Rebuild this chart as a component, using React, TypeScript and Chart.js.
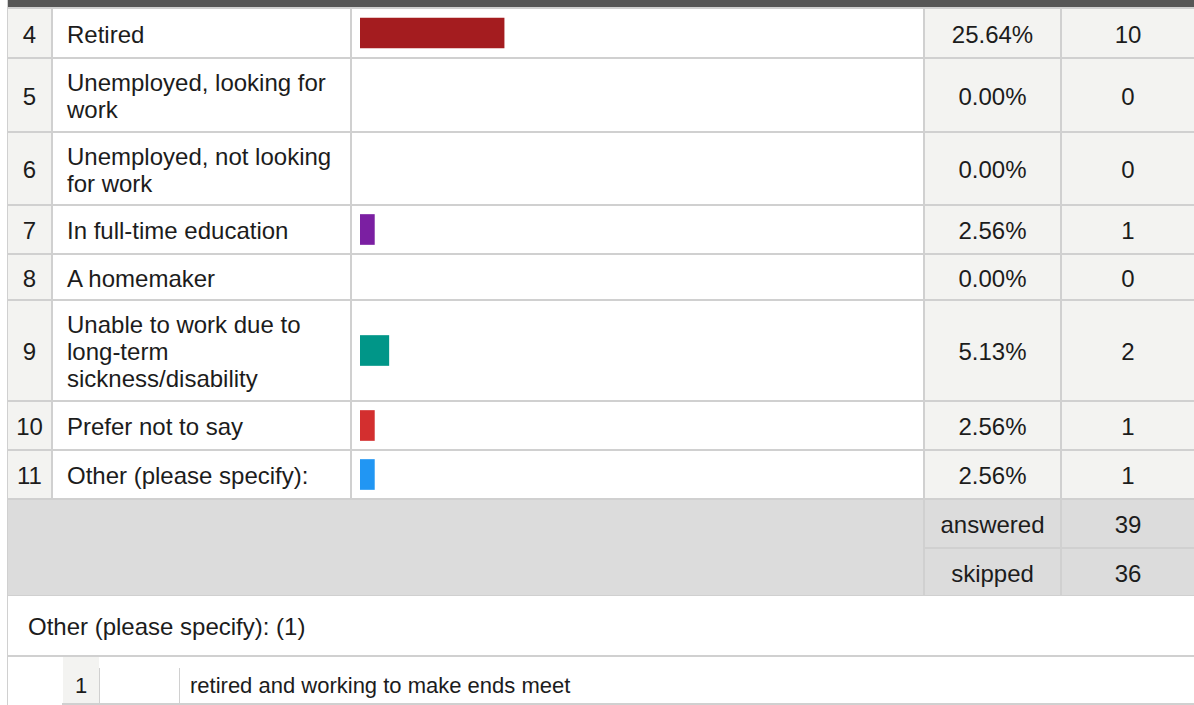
import React, { useEffect, useRef } from "react";
import { Chart, registerables } from "chart.js";

Chart.register(...registerables);

// ---- data ----
const rowNumbers = ["4", "5", "6", "7", "8", "9", "10", "11"];
const categories = [
  "Retired",
  "Unemployed, looking for work",
  "Unemployed, not looking for work",
  "In full-time education",
  "A homemaker",
  "Unable to work due to long-term sickness/disability",
  "Prefer not to say",
  "Other (please specify):",
];
const percentValues = [25.64, 0.0, 0.0, 2.56, 0.0, 5.13, 2.56, 2.56];
const counts = [10, 0, 0, 1, 0, 2, 1, 1];
const barColors = ["#a41c1f", "#a41c1f", "#a41c1f", "#7b1fa2", "#7b1fa2", "#009688", "#d32f2f", "#2196f3"];
const summaryLabels = ["answered", "skipped"];
const summaryValues = [39, 36];
const otherTitle = "Other (please specify): (1)";
const otherResponses = ["retired and working to make ends meet"];

// ---- layout (styles only) ----
const FONT = "'Liberation Sans', Arial, Helvetica, sans-serif";
const LINE = "#d0d0d0";
const CELL_BG = "#f3f3f1";
const SUM_BG = "#dcdcdc";
const TEXT = "#1c1c1c";
const lineTops = [7, 57, 131, 204, 253, 299, 400, 449, 498];
const COLS = { idx: [8, 43], label: [53, 297], bar: [352, 571], pct: [925, 135], cnt: [1062, 132] };
const BAR_LEFT_PAD = 8;
const BAR_SCALE_W = 562;

function BarCell({ value, color, label, height }: { value: number; color: string; label: string; height: number }) {
  const ref = useRef<HTMLCanvasElement>(null);
  useEffect(() => {
    const chart = new Chart(ref.current as HTMLCanvasElement, {
      type: "bar",
      data: {
        labels: [label],
        datasets: [
          {
            data: [value],
            backgroundColor: value > 0 ? color : "rgba(0,0,0,0)",
            borderWidth: 0,
            barThickness: 30,
          },
        ],
      },
      options: {
        indexAxis: "y",
        responsive: false,
        maintainAspectRatio: false,
        animation: false,
        devicePixelRatio: 1,
        layout: { padding: 0 },
        plugins: { legend: { display: false }, tooltip: { enabled: false } },
        scales: {
          x: { min: 0, max: 100, display: false },
          y: { display: false },
        },
      },
    } as any);
    return () => chart.destroy();
  }, [value, color, label, height]);
  return (
    <canvas
      ref={ref}
      width={BAR_SCALE_W}
      height={height}
      style={{ position: "absolute", left: BAR_LEFT_PAD, top: 0, width: BAR_SCALE_W, height }}
    />
  );
}

function Box(props: { x: number; y: number; w: number; h: number; bg?: string; children?: any; style?: any }) {
  return (
    <div
      style={{
        position: "absolute",
        left: props.x,
        top: props.y,
        width: props.w,
        height: props.h,
        background: props.bg,
        boxSizing: "border-box",
        ...props.style,
      }}
    >
      {props.children}
    </div>
  );
}

const centerText: any = {
  display: "flex",
  alignItems: "center",
  justifyContent: "center",
  textAlign: "center",
  paddingTop: 2,
};

export default function App() {
  const rows = categories.map((c, i) => {
    const top = lineTops[i] + 2;
    const h = (i + 1 < lineTops.length ? lineTops[i + 1] : 498) - top;
    return { c, i, top, h };
  });
  const sumTop = 500;
  return (
    <div
      style={{
        position: "absolute",
        left: 0,
        top: 0,
        width: 1194,
        height: 705,
        overflow: "hidden",
        background: "#fff",
        fontFamily: FONT,
        fontSize: 24,
        color: TEXT,
        lineHeight: "27px",
      }}
    >
      {/* left border */}
      <Box x={7} y={0} w={1} h={705} bg={LINE} />
      {/* dark header strip */}
      <Box x={8} y={0} w={1186} h={7} bg="#565656" />
      {/* table grid background (lines) */}
      <Box x={8} y={7} w={1186} h={493} bg={LINE} />
      {rows.map(({ c, i, top, h }) => (
        <React.Fragment key={i}>
          <Box x={COLS.idx[0]} y={top} w={COLS.idx[1]} h={h} bg={CELL_BG} style={centerText}>
            {rowNumbers[i]}
          </Box>
          <Box
            x={COLS.label[0]}
            y={top}
            w={COLS.label[1]}
            h={h}
            bg="#fff"
            style={{ display: "flex", alignItems: "center", padding: "2px 14px 0 14px" }}
          >
            <span>{c}</span>
          </Box>
          <Box x={COLS.bar[0]} y={top} w={COLS.bar[1]} h={h} bg="#fff">
            <BarCell value={percentValues[i]} color={barColors[i]} label={c} height={h} />
          </Box>
          <Box x={COLS.pct[0]} y={top} w={COLS.pct[1]} h={h} bg={CELL_BG} style={centerText}>
            {percentValues[i].toFixed(2) + "%"}
          </Box>
          <Box x={COLS.cnt[0]} y={top} w={COLS.cnt[1]} h={h} bg={CELL_BG} style={centerText}>
            {counts[i]}
          </Box>
        </React.Fragment>
      ))}
      {/* summary */}
      <Box x={8} y={sumTop} w={1186} h={96} bg={LINE} />
      <Box x={8} y={sumTop} w={915} h={95} bg={SUM_BG} />
      {summaryLabels.map((s, k) => {
        const y = k === 0 ? sumTop : 549;
        const h = k === 0 ? 47 : 46;
        return (
          <React.Fragment key={s}>
            <Box x={COLS.pct[0]} y={y} w={COLS.pct[1]} h={h} bg={SUM_BG} style={centerText}>
              {s}
            </Box>
            <Box x={COLS.cnt[0]} y={y} w={COLS.cnt[1]} h={h} bg={SUM_BG} style={centerText}>
              {summaryValues[k]}
            </Box>
          </React.Fragment>
        );
      })}
      {/* other responses title */}
      <Box
        x={8}
        y={596}
        w={1186}
        h={59}
        bg="#fff"
        style={{ display: "flex", alignItems: "center", padding: "2px 0 0 20px" }}
      >
        {otherTitle}
      </Box>
      <Box x={8} y={655} w={1186} h={2} bg={LINE} />
      {otherResponses.map((r, k) => (
        <React.Fragment key={k}>
          <Box x={63} y={657} w={36} h={46} bg={CELL_BG} style={{ ...centerText, fontSize: 22, paddingTop: 10 }}>
            {k + 1}
          </Box>
          <Box x={99} y={668} w={1} h={35} bg={LINE} />
          <Box x={179} y={668} w={1} h={35} bg={LINE} />
          <Box x={190} y={657} w={1000} h={46} style={{ display: "flex", alignItems: "center", fontSize: 22, paddingTop: 10 }}>
            {r}
          </Box>
          <Box x={62} y={703} w={1132} h={2} bg={LINE} />
        </React.Fragment>
      ))}
    </div>
  );
}
